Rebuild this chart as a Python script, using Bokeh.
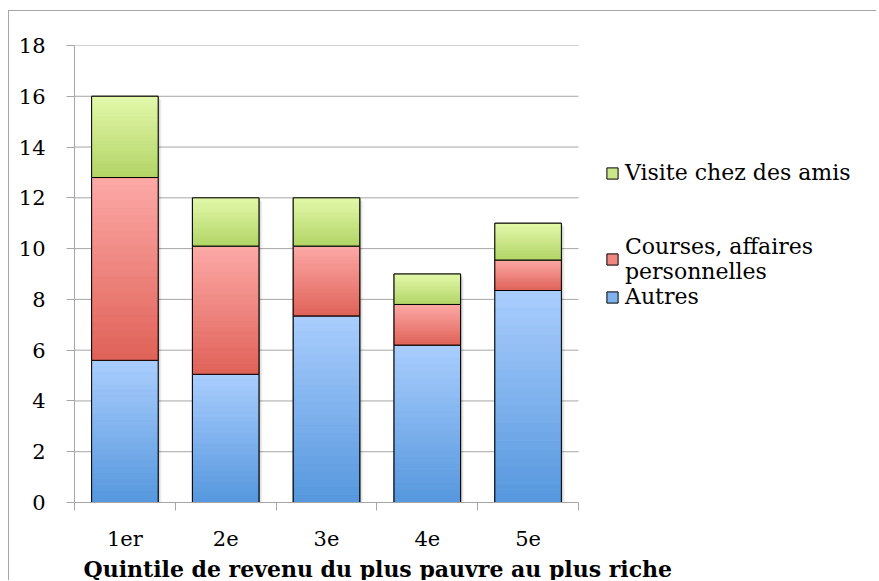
import numpy as np
from bokeh.plotting import figure
from bokeh.models import FixedTicker, Legend, LegendItem, Title
from bokeh.embed import file_html
from bokeh.resources import INLINE

# ---- data ----
categories = ["1er", "2e", "3e", "4e", "5e"]
autres = [5.6, 5.05, 7.35, 6.2, 8.35]
courses = [7.2, 5.05, 2.75, 1.6, 1.2]
visite = [3.2, 1.9, 1.9, 1.2, 1.45]
series_labels = ["Autres", "Courses, affaires\npersonnelles", "Visite chez des amis"]
y_ticks = [0, 2, 4, 6, 8, 10, 12, 14, 16, 18]
x_title = "Quintile de revenu du plus pauvre au plus riche"

# gradient colours (top, bottom) per series
grad = [("#aacefe", "#5597dd"), ("#fdaaa7", "#df6157"), ("#e3f9ab", "#b2d466")]
mid = ["#80b2ee", "#ef8880", "#cbe78a"]

FONT = "DejaVu Serif"
GRID = "#a6a6a6"

# layout (pixels)
W, H = 868, 570
LEFT, TOP, BOTTOM = 65, 34, 79
CAT_PX = 100.8           # width of one category slot
ncat = len(categories)
frame_w = W - LEFT
x_start = -0.5
x_end = x_start + frame_w / CAT_PX   # frame extends right to hold the legend

p = figure(width=W, height=H, x_range=(x_start, x_end), y_range=(0, 18),
           output_backend="svg", toolbar_location=None,
           min_border_left=LEFT, min_border_right=0, min_border_top=TOP,
           min_border_bottom=BOTTOM)
p.styles = {"border-left": "1px solid #a6a6a6", "border-top": "1px solid #a6a6a6",
            "margin-left": "8px", "margin-top": "10px"}
p.outline_line_color = None
p.background_fill_color = "white"
p.border_fill_color = "white"

# horizontal gridlines limited to the category area
p.segment(x0=[x_start] * len(y_ticks), x1=[ncat - 0.5] * len(y_ticks),
          y0=y_ticks, y1=y_ticks, line_color=GRID, line_width=1)


def hex2rgb(h):
    h = h.lstrip("#")
    return np.array([int(h[i:i + 2], 16) for i in (0, 2, 4)], dtype=float)


def rgb2hex(c):
    return "#%02x%02x%02x" % tuple(int(round(v)) for v in c)


xc = np.arange(ncat, dtype=float)
half = 0.33
totals = np.array(autres) + np.array(courses) + np.array(visite)

# soft drop shadow behind the bars
for k, a in enumerate([0.10, 0.07, 0.04]):
    dx = (k + 1) * 1.2 / CAT_PX
    dy = (k + 1) * 1.2 / 25.4
    p.quad(left=xc - half + dx, right=xc + half + dx, bottom=np.zeros(ncat),
           top=totals - dy, fill_color="black", fill_alpha=a, line_color=None)

N = 24
bottoms = np.zeros(ncat)
renderers = []
for si, vals in enumerate([autres, courses, visite]):
    vals = np.array(vals, dtype=float)
    tops = bottoms + vals
    base = p.quad(left=xc - half, right=xc + half, bottom=bottoms, top=tops,
                  fill_color=mid[si], line_color="black", line_width=1)
    renderers.append(base)
    ctop, cbot = hex2rgb(grad[si][0]), hex2rgb(grad[si][1])
    L, R, B, T, C = [], [], [], [], []
    for k in range(N):
        f0, f1 = k / N, (k + 1) / N
        col = rgb2hex(cbot + (ctop - cbot) * (k + 0.5) / N)
        for i in range(ncat):
            L.append(xc[i] - half)
            R.append(xc[i] + half)
            B.append(bottoms[i] + vals[i] * f0)
            T.append(bottoms[i] + vals[i] * f1)
            C.append(col)
    p.quad(left=L, right=R, bottom=B, top=T, fill_color=C, line_color=C, line_width=0.6)
    p.quad(left=xc - half, right=xc + half, bottom=bottoms, top=tops,
           fill_color=None, line_color="black", line_width=1)
    bottoms = tops

# ---- axes ----
p.xgrid.visible = False
p.ygrid.visible = False

xa = p.xaxis[0]
xa.bounds = (x_start, ncat - 0.5)
xa.ticker = FixedTicker(ticks=list(range(ncat)),
                        minor_ticks=[i - 0.5 for i in range(ncat + 1)])
xa.major_label_overrides = {i: c for i, c in enumerate(categories)}
xa.major_tick_out = 0
xa.major_tick_in = 0
xa.minor_tick_out = 8
xa.minor_tick_in = 0
xa.minor_tick_line_color = GRID
xa.axis_line_color = GRID
xa.major_label_standoff = 16
xa.major_label_text_font = FONT
xa.major_label_text_font_size = "21px"
xa.major_label_text_color = "black"

ya = p.yaxis[0]
ya.ticker = FixedTicker(ticks=y_ticks)
ya.major_tick_out = 8
ya.major_tick_in = 0
ya.minor_tick_out = 0
ya.minor_tick_in = 0
ya.major_tick_line_color = GRID
ya.axis_line_color = GRID
ya.major_label_standoff = 21
ya.major_label_text_font = FONT
ya.major_label_text_font_size = "21px"
ya.major_label_text_color = "black"

title = Title(text=x_title, align="left", offset=9, standoff=0,
              text_font=FONT, text_font_size="22px", text_font_style="bold",
              text_color="black")
p.add_layout(title, "below")

legend_style = dict(label_text_font=FONT, label_text_font_size="22px",
                    label_text_color="black", label_text_line_height=1.4,
                    glyph_width=14, glyph_height=14, label_standoff=6,
                    padding=9, margin=0, border_line_color=None,
                    background_fill_alpha=0)
legend_top = Legend(items=[LegendItem(label=series_labels[2], renderers=[renderers[2]])],
                    location=(531, 317), spacing=0, **legend_style)
legend_bottom = Legend(items=[LegendItem(label=series_labels[1], renderers=[renderers[1]]),
                              LegendItem(label=series_labels[0], renderers=[renderers[0]])],
                       location=(531, 193), spacing=0, **legend_style)
p.add_layout(legend_top, "center")
p.add_layout(legend_bottom, "center")

open("out.html", "w").write(file_html(p, INLINE))
